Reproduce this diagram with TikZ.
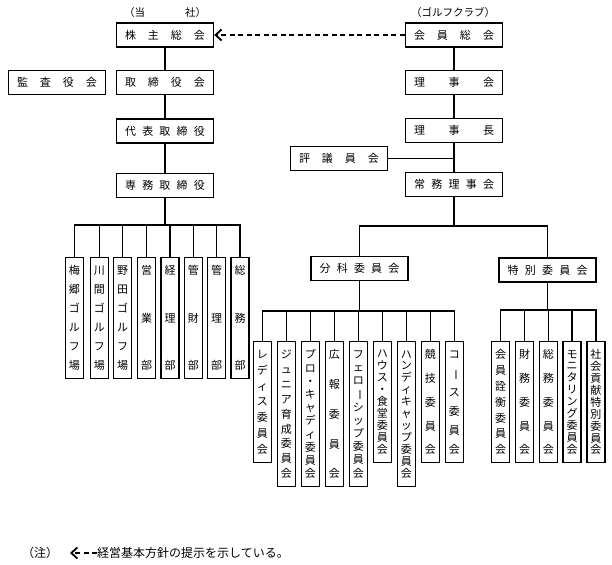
\documentclass[tikz,border=0pt]{standalone}
\usepackage{fontspec}
\setmainfont{Noto Sans CJK JP}
\usepackage{graphicx}
\usetikzlibrary{arrows.meta}
\newcommand\chou{\rotatebox[origin=c]{-90}{ー}}
\newcommand\vfont[1]{\fontsize{11}{#1}\selectfont}
\newcommand\spread[1]{\makebox[80pt]{#1}}

\begin{document}
\begin{tikzpicture}[x=1pt,y=-1pt,
  hbox/.style={draw,line width=1.4pt,minimum width=97pt,minimum height=24pt,inner sep=0pt,font=\fontsize{11}{13}\selectfont},
  vbox/.style={draw,line width=1.4pt,minimum width=18pt,minimum height=#1,inner sep=0pt,anchor=north,align=center},
  conn/.style={line width=1.3pt},
  dasharrow/.style={line width=1.3pt,dash pattern=on 5pt off 3.5pt,-{Straight Barb[length=6pt,width=11pt,line width=1.8pt]}}]
\useasboundingbox (0,0) rectangle (612,564);

% company side
\node[font=\fontsize{10.5}{12}\selectfont] (tosha) at (165,13) {\makebox[82pt]{（当\hfill 社）}};
\node[hbox] (kabu) at (165,35) {\spread{株\hfill 主\hfill 総\hfill 会}};
\node[hbox] (torishimari) at (165,82.5) {\spread{取\hfill 締\hfill 役\hfill 会}};
\node[hbox] (kansa) at (57,82.5) {\spread{監\hfill 査\hfill 役\hfill 会}};
\node[hbox] (daihyo) at (165,131) {\spread{代\hfill 表\hfill 取\hfill 締\hfill 役}};
\node[hbox] (senmu) at (165,185.5) {\spread{専\hfill 務\hfill 取\hfill 締\hfill 役}};
\draw[conn] (kabu) -- (torishimari);
\draw[conn] (torishimari) -- (daihyo);
\draw[conn] (daihyo) -- (senmu);

\coordinate (lbus) at (165,225);
\draw[conn] (senmu) -- (lbus);
\foreach \x/\nm/\gap/\t in {74.3/d1/19/{梅\\郷\\ゴ\\ル\\フ\\場},99.3/d2/19/{川\\間\\ゴ\\ル\\フ\\場},
  122.7/d3/19/{野\\田\\ゴ\\ル\\フ\\場},146.7/d4/47.5/{営\\業\\部},170/d5/47.5/{経\\理\\部},
  193.3/d6/47.5/{管\\財\\部},216.7/d7/47.5/{管\\理\\部},240/d8/47.5/{総\\務\\部}}{
  \node[vbox=121pt,font=\vfont{\gap}] (\nm) at (\x,257) {\t};
  \draw[conn] (lbus) -| (\nm.north);
}

% golf club side
\node[font=\fontsize{10.5}{12}\selectfont] (club) at (453,13) {（ゴルフクラブ）};
\node[hbox] (kaiin) at (454,35) {\spread{会\hfill 員\hfill 総\hfill 会}};
\node[hbox] (rijikai) at (454,82.5) {\spread{理\hfill 事\hfill 会}};
\node[hbox] (richo) at (454,130.5) {\spread{理\hfill 事\hfill 長}};
\node[hbox] (hyogi) at (339,158.5) {\spread{評\hfill 議\hfill 員\hfill 会}};
\node[hbox] (joumu) at (454,184.5) {\spread{常\hfill 務\hfill 理\hfill 事\hfill 会}};
\draw[conn] (kaiin) -- (rijikai);
\draw[conn] (rijikai) -- (richo);
\draw[conn] (richo) -- (joumu);
\draw[conn] (hyogi.east) -- (hyogi.east -| joumu.north);
\draw[dasharrow] (kaiin.west) -- (kabu.east);

\node[hbox] (bunka) at (359.5,268.5) {\spread{分\hfill 科\hfill 委\hfill 員\hfill 会}};
\node[hbox] (tokubetsu) at (547.5,270) {\spread{特\hfill 別\hfill 委\hfill 員\hfill 会}};
\coordinate (rbus) at (454,226);
\draw[conn] (joumu) -- (rbus);
\draw[conn] (rbus) -| (bunka.north);
\draw[conn] (rbus) -| (tokubetsu.north);

\coordinate (bbus) at (359.5,311);
\draw[conn] (bunka) -- (bbus);
\foreach \x/\nm/\h/\gap/\t in {262.3/c1/121/15.8/{レ\\デ\\ィ\\ス\\委\\員\\会},
  286.3/c2/145/14.9/{ジ\\ュ\\ニ\\ア\\育\\成\\委\\員\\会},
  310.3/c3/145/13.2/{プ\\ロ\\・\\キ\\ャ\\デ\\ィ\\委\\員\\会},
  334.3/c4/145/29.75/{広\\報\\委\\員\\会},
  358.3/c5/145/13.2/{フ\\ェ\\ロ\\\chou\\シ\\ッ\\プ\\委\\員\\会},
  382.3/c6/121/11.9/{ハ\\ウ\\ス\\・\\食\\堂\\委\\員\\会},
  406.3/c7/145/11.9/{ハ\\ン\\デ\\ィ\\キ\\ャ\\ッ\\プ\\委\\員\\会},
  430.3/c8/121/23.75/{競\\技\\委\\員\\会},
  454.3/c9/121/19/{コ\\\chou\\ス\\委\\員\\会}}{
  \node[vbox=\h pt,font=\vfont{\gap}] (\nm) at (\x,341) {\t};
  \draw[conn] (bbus) -| (\nm.north);
}

\coordinate (tbus) at (547.5,310);
\draw[conn] (tokubetsu) -- (tbus);
\foreach \x/\nm/\gap/\t in {500.7/s1/15.8/{会\\員\\詮\\衡\\委\\員\\会},524.5/s2/23.75/{財\\務\\委\\員\\会},
  548.3/s3/23.75/{総\\務\\委\\員\\会},572.1/s4/11.9/{モ\\ニ\\タ\\リ\\ン\\グ\\委\\員\\会},
  595.9/s5/11.9/{社\\会\\貢\\献\\特\\別\\委\\員\\会}}{
  \node[vbox=121pt,font=\vfont{\gap}] (\nm) at (\x,341) {\t};
  \draw[conn] (tbus) -| (\nm.north);
}

% note
\node[font=\fontsize{12}{14}\selectfont] (chu) at (40,553) {（注）};
\node[font=\fontsize{12}{14}\selectfont,anchor=west,inner sep=0pt] (note) at (97,553) {経営基本方針の提示を示している。};
\coordinate (notetip) at (70,553);
\draw[dasharrow] (note.west) -- (notetip);
\end{tikzpicture}
\end{document}
